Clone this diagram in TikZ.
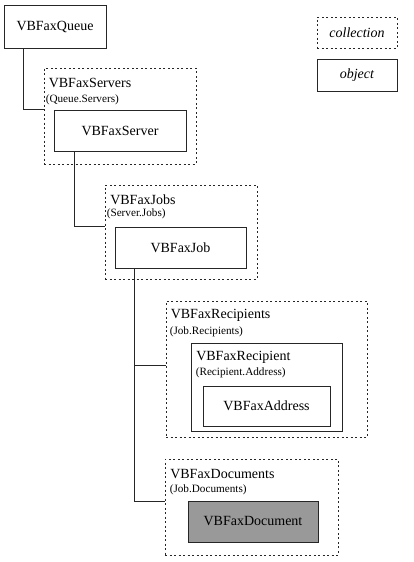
\documentclass[tikz,border=0pt]{standalone}
\usepackage{fontspec}
\setmainfont{Liberation Serif}
\usepackage{tikz}
\usetikzlibrary{positioning,calc}

\begin{document}
\begin{tikzpicture}[x=1pt,y=-1pt,
    objbox/.style={draw=black!85, line width=0.8pt, rectangle, inner sep=0pt,
        font=\fontsize{14}{16}\selectfont},
    collbox/.style={draw=black!85, line width=0.8pt, dash pattern=on 2pt off 2.5pt,
        rectangle, inner sep=0pt, font=\fontsize{14}{16}\selectfont},
    title/.style={anchor=west, inner sep=0pt, font=\fontsize{14}{16}\selectfont},
    subtitle/.style={anchor=west, inner sep=0pt, font=\fontsize{11.2}{12}\selectfont},
    link/.style={draw=black!85, line width=0.8pt}]
\useasboundingbox (0,0) rectangle (414,562);

% legend
\node[collbox, minimum width=80pt, minimum height=31pt] (legcoll) at (357,32.5) {\textit{collection}};
\node[objbox, minimum width=80pt, minimum height=32pt] (legobj) at (357,75) {\textit{object}};

% tree
\node[objbox, minimum width=102pt, minimum height=43pt] (queue) at (55,26.5) {VBFaxQueue};

\node[collbox, minimum width=152pt, minimum height=96pt] (servers) at (120,116) {};
\node[title] (serverst) at ($(servers.north west)+(5,15)$) {VBFaxServers};
\node[subtitle] (serverss) at ($(servers.north west)+(2,32)$) {(Queue.Servers)};
\node[objbox, minimum width=132pt, minimum height=41pt] (server) at (120,130.5) {VBFaxServer};

\node[collbox, minimum width=152pt, minimum height=94pt] (jobs) at (181,232) {};
\node[title] (jobst) at ($(jobs.north west)+(5.5,15)$) {VBFaxJobs};
\node[subtitle] (jobss) at ($(jobs.north west)+(2,29.5)$) {(Server.Jobs)};
\node[objbox, minimum width=131pt, minimum height=41pt] (job) at (180.5,247.5) {VBFaxJob};

\node[collbox, minimum width=201pt, minimum height=136pt] (recips) at (266.5,369) {};
\node[title] (recipst) at ($(recips.north west)+(5,15)$) {VBFaxRecipients};
\node[subtitle] (recipss) at ($(recips.north west)+(4,31)$) {(Job.Recipients)};
\node[objbox, minimum width=151pt, minimum height=88pt] (recip) at (266.5,387) {};
\node[title] (recipt) at ($(recip.north west)+(5.5,15)$) {VBFaxRecipient};
\node[subtitle] (recips2) at ($(recip.north west)+(5,30)$) {(Recipient.Address)};
\node[objbox, minimum width=127pt, minimum height=40pt] (address) at (266.5,406) {VBFaxAddress};

\node[collbox, minimum width=173pt, minimum height=96pt] (docs) at (251.5,507) {};
\node[title] (docst) at ($(docs.north west)+(5.5,15)$) {VBFaxDocuments};
\node[subtitle] (docss) at ($(docs.north west)+(5,31)$) {(Job.Documents)};
\node[objbox, fill=black!40, minimum width=130pt, minimum height=41pt] (doc) at (253,521.5) {VBFaxDocument};

% connectors
\draw[link] ([xshift=20pt]queue.south west) |- ([yshift=7pt]servers.west);
\draw[link] ([xshift=21pt]server.south west) |- ([yshift=6pt]jobs.west);
\draw[link] ([xshift=20pt]job.south west) |- ([yshift=4pt]recips.west);
\draw[link] ([xshift=20pt]job.south west) |- ([yshift=6pt]docs.west);
\end{tikzpicture}
\end{document}
